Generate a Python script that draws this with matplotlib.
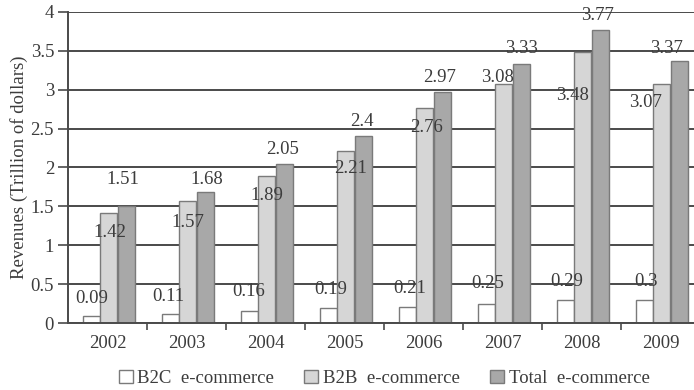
import numpy as np
import matplotlib
matplotlib.use('Agg')
import matplotlib.pyplot as plt
from matplotlib.patches import Patch

plt.rcParams['font.family'] = ['Liberation Serif', 'DejaVu Serif']

years = ['2002', '2003', '2004', '2005', '2006', '2007', '2008', '2009']
b2c = [0.09, 0.11, 0.16, 0.19, 0.21, 0.25, 0.29, 0.3]
b2b = [1.42, 1.57, 1.89, 2.21, 2.76, 3.08, 3.48, 3.07]
total = [1.51, 1.68, 2.05, 2.4, 2.97, 3.33, 3.77, 3.37]
series_names = ['B2C  e-commerce', 'B2B  e-commerce', 'Total  e-commerce']

# where each value label sits relative to its bar (x in category units, y in data units)
b2c_lbl_dx = [0.0, -0.02, -0.01, 0.03, 0.03, 0.02, 0.02, 0.02]
b2c_lbl_dy = [0.23, 0.23, 0.24, 0.24, 0.24, 0.26, 0.24, 0.23]
b2b_lbl_dx = [0.02, 0.0, 0.0, 0.06, 0.03, -0.08, -0.13, -0.2]
b2b_lbl_dy = [-0.25, -0.28, -0.25, -0.22, -0.24, 0.08, -0.55, -0.23]
tot_lbl_dx = [-0.04, 0.02, -0.02, -0.02, -0.03, 0.0, -0.03, -0.16]
tot_lbl_dy = [0.33, 0.16, 0.18, 0.19, 0.19, 0.2, 0.18, 0.16]

colors = ['white', '#d6d6d6', '#a8a8a8']
edge = '#7a7a7a'
txt = '#3c3c3c'
fsize = 13.5

fig = plt.figure(figsize=(6.94, 3.9), dpi=100)
ax = fig.add_axes([68 / 694, 67 / 390, 632 / 694, 311 / 390])

x = np.arange(len(years))
width = 0.215
shift = [-0.205, 0.013, 0.235]
for vals, c, s in zip([b2c, b2b, total], colors, shift):
    ax.bar(x + s, vals, width, color=c, edgecolor=edge, linewidth=1.0, zorder=3)

def put_labels(vals, s, dxs, dys):
    for i, v in enumerate(vals):
        ax.text(x[i] + s + dxs[i], v + dys[i], str(v), ha='center', va='center',
                fontsize=fsize, color=txt, zorder=5)

put_labels(b2c, shift[0], b2c_lbl_dx, b2c_lbl_dy)
put_labels(b2b, shift[1], b2b_lbl_dx, b2b_lbl_dy)
put_labels(total, shift[2], tot_lbl_dx, tot_lbl_dy)

ax.set_xlim(-0.5, len(years) - 0.5)
ax.set_ylim(0, 4)
ax.set_yticks(np.arange(0, 4.01, 0.5))
ax.set_yticklabels(['0', '0.5', '1', '1.5', '2', '2.5', '3', '3.5', '4'])
ax.yaxis.grid(True, color='#4a4a4a', linewidth=1.4)
for ln in ax.get_ygridlines():
    ln.set_zorder(2)

ax.set_xticks(x)
ax.set_xticklabels(years)
ax.set_xticks(np.arange(0.5, len(years) - 0.5, 1), minor=True)
ax.tick_params(axis='x', which='major', length=0, pad=9, labelsize=fsize, colors=txt)
ax.tick_params(axis='x', which='minor', length=5, width=1.2, color='#4a4a4a')
ax.tick_params(axis='y', length=7, width=1.2, color='#4a4a4a', labelsize=fsize,
               labelcolor=txt, pad=3)

for side in ['top', 'right']:
    ax.spines[side].set_visible(False)
for side in ['left', 'bottom']:
    ax.spines[side].set_color('#4a4a4a')
    ax.spines[side].set_linewidth(1.4)
    ax.spines[side].set_zorder(4)

ax.set_ylabel('Revenues (Trillion of dollars)', fontsize=fsize, color=txt, labelpad=2)

handles = [Patch(facecolor=c, edgecolor=edge, linewidth=1.0) for c in colors]
ax.legend(handles, series_names, loc='upper center', bbox_to_anchor=(0.5, -0.12),
          ncol=3, frameon=False, fontsize=fsize, handlelength=0.75, handleheight=0.75,
          handletextpad=0.25, columnspacing=1.6, labelcolor=txt, borderpad=0)

fig.savefig('out.png', dpi=100)
